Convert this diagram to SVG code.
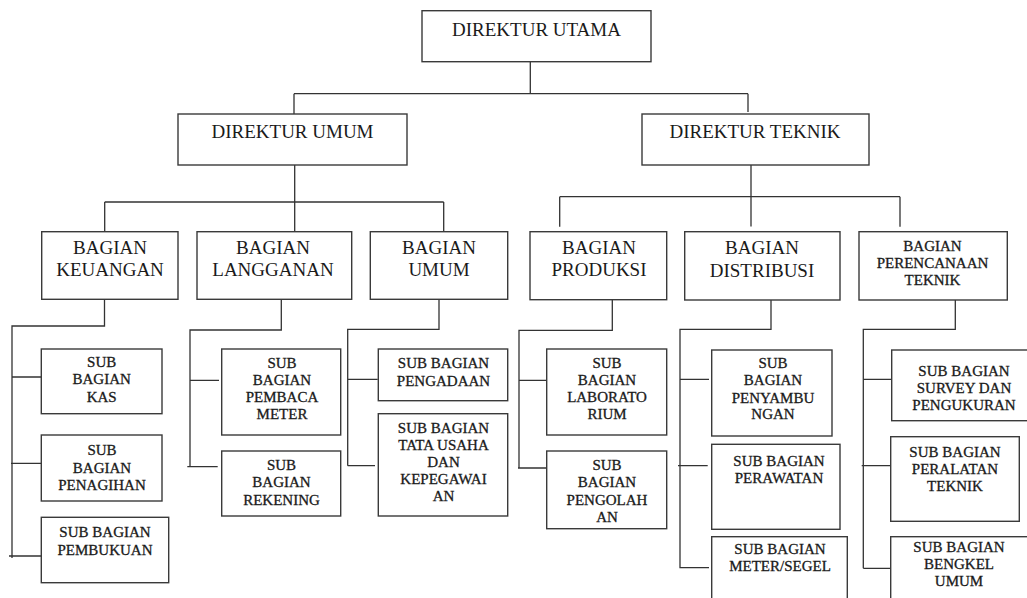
<svg xmlns="http://www.w3.org/2000/svg" width="1027" height="598" viewBox="0 0 1027 598">
<style>
.box{fill:#fff;stroke:#3a3a3a;stroke-width:1.4}
.ln{fill:none;stroke:#333;stroke-width:1.3}
text{font-family:"Liberation Serif","Times New Roman",serif;fill:#1a1a1a;text-anchor:middle}
.t1{font-size:19px}
.t2{font-size:15px;stroke:#1a1a1a;stroke-width:0.3}
</style>
<rect width="1027" height="598" fill="#fff"/>
<g id="connectors" class="ln">
<path d="M530.3,62 V93.7 M294,93.7 H748 M294,93.7 V114 M748,93.7 V112"/>
<path d="M294.7,165 V231.7 M104.7,202 H443.7 M104.7,202 V231.7 M443.7,202 V231"/>
<path d="M751,161 V226.5 M559.7,196.7 H900 M559.7,196.7 V226.7 M900,196.7 V226.7"/>
<path d="M104.5,299.3 V326 H12 V558 M12,377 H41.3 M11,463.3 H41.3 M9,556 H41.3"/>
<path d="M281.3,299.3 V330 H190 V466.7 M190,380.3 H219 M187.3,466.7 H217.7"/>
<path d="M439,299.3 V329.3 H347.7 V465.7 M347.7,379.3 H377.7 M347.7,465.7 H375"/>
<path d="M612.3,299.3 V330.3 H519 V468 M519,380.3 H550 M518,468 H549"/>
<path d="M771,300 V329.3 H680 V568.3 M680,379.3 H709 M678,465.7 H707.7 M680,567.7 H709"/>
<path d="M955.3,300 V329.3 H863.3 V568.3 M863.3,379.3 H892.7 M861.7,465.7 H890 M863.3,568.3 H892.7"/>
</g>
<g id="direktur-utama"><rect class="box" x="422" y="10.7" width="229" height="51"/><text class="t1" x="536.5" y="36">DIREKTUR UTAMA</text></g>
<g id="direktur-umum"><rect class="box" x="178" y="114" width="229" height="51"/><text class="t1" x="292.5" y="138">DIREKTUR UMUM</text></g>
<g id="direktur-teknik"><rect class="box" x="642" y="114" width="227" height="51"/><text class="t1" x="755" y="138">DIREKTUR TEKNIK</text></g>
<g id="bagian-keuangan"><rect class="box" x="41.7" y="231.7" width="136.3" height="67.6"/><text class="t1" x="110" y="254.3">BAGIAN</text><text class="t1" x="110" y="276">KEUANGAN</text></g>
<g id="bagian-langganan"><rect class="box" x="197" y="231.7" width="154.7" height="67.6"/><text class="t1" x="273" y="254.3">BAGIAN</text><text class="t1" x="273" y="276">LANGGANAN</text></g>
<g id="bagian-umum"><rect class="box" x="370.3" y="231.7" width="137.4" height="67.6"/><text class="t1" x="439" y="254.3">BAGIAN</text><text class="t1" x="439" y="276">UMUM</text></g>
<g id="bagian-produksi"><rect class="box" x="530" y="231.7" width="136.7" height="68"/><text class="t1" x="599" y="254.3">BAGIAN</text><text class="t1" x="599" y="276">PRODUKSI</text></g>
<g id="bagian-distribusi"><rect class="box" x="684.7" y="231.7" width="155.3" height="68.3"/><text class="t1" x="762" y="254.3">BAGIAN</text><text class="t1" x="762" y="276.5">DISTRIBUSI</text></g>
<g id="bagian-perencanaan"><rect class="box" x="859" y="231.7" width="148.3" height="68.3"/><text class="t2" x="932.5" y="251">BAGIAN</text><text class="t2" x="932.5" y="268">PERENCANAAN</text><text class="t2" x="932.5" y="285">TEKNIK</text></g>
<g id="sub-kas"><rect class="box" x="41.3" y="349" width="120.7" height="64.7"/><text class="t2" x="101.7" y="366.7">SUB</text><text class="t2" x="101.7" y="384.3">BAGIAN</text><text class="t2" x="101.7" y="401.7">KAS</text></g>
<g id="sub-penagihan"><rect class="box" x="41.3" y="435" width="120.7" height="66"/><text class="t2" x="102" y="455.3">SUB</text><text class="t2" x="102" y="472.7">BAGIAN</text><text class="t2" x="102" y="490">PENAGIHAN</text></g>
<g id="sub-pembukuan"><rect class="box" x="41.3" y="517.3" width="127.4" height="65.4"/><text class="t2" x="105" y="537.3">SUB BAGIAN</text><text class="t2" x="105" y="555">PEMBUKUAN</text></g>
<g id="sub-pembaca-meter"><rect class="box" x="221.7" y="349" width="119" height="86"/><text class="t2" x="282" y="367.7">SUB</text><text class="t2" x="282" y="385">BAGIAN</text><text class="t2" x="282" y="402.3">PEMBACA</text><text class="t2" x="282" y="419.3">METER</text></g>
<g id="sub-rekening"><rect class="box" x="221.7" y="451" width="119" height="65"/><text class="t2" x="281.5" y="470">SUB</text><text class="t2" x="281.5" y="487.3">BAGIAN</text><text class="t2" x="281.5" y="504.7">REKENING</text></g>
<g id="sub-pengadaan"><rect class="box" x="378.3" y="349" width="129.4" height="51.7"/><text class="t2" x="443.5" y="368.3">SUB BAGIAN</text><text class="t2" x="443.5" y="385.7">PENGADAAN</text></g>
<g id="sub-tata-usaha"><rect class="box" x="378.3" y="413.7" width="129.4" height="102.3"/><text class="t2" x="443.5" y="433.3">SUB BAGIAN</text><text class="t2" x="443.5" y="450.3">TATA USAHA</text><text class="t2" x="443.5" y="467.3">DAN</text><text class="t2" x="443.5" y="484.3">KEPEGAWAI</text><text class="t2" x="443.5" y="501.3">AN</text></g>
<g id="sub-laboratorium"><rect class="box" x="546.7" y="349" width="120" height="86"/><text class="t2" x="607" y="368">SUB</text><text class="t2" x="607" y="385">BAGIAN</text><text class="t2" x="607" y="402.3">LABORATO</text><text class="t2" x="607" y="419.3">RIUM</text></g>
<g id="sub-pengolahan"><rect class="box" x="546.7" y="451" width="120" height="77.7"/><text class="t2" x="607" y="470">SUB</text><text class="t2" x="607" y="487.3">BAGIAN</text><text class="t2" x="607" y="504.7">PENGOLAH</text><text class="t2" x="607" y="521.7">AN</text></g>
<g id="sub-penyambungan"><rect class="box" x="711.7" y="350" width="120.3" height="86"/><text class="t2" x="773" y="368.3">SUB</text><text class="t2" x="773" y="385.3">BAGIAN</text><text class="t2" x="773" y="402.7">PENYAMBU</text><text class="t2" x="773" y="419.3">NGAN</text></g>
<g id="sub-perawatan"><rect class="box" x="711.7" y="444.3" width="128.3" height="85"/><text class="t2" x="779" y="465.7">SUB BAGIAN</text><text class="t2" x="779" y="482.7">PERAWATAN</text></g>
<g id="sub-meter-segel"><rect class="box" x="711.7" y="536.7" width="135.6" height="70"/><text class="t2" x="780" y="554">SUB BAGIAN</text><text class="t2" x="780" y="571">METER/SEGEL</text></g>
<g id="sub-survey"><rect class="box" x="891.7" y="350" width="140" height="70.7"/><text class="t2" x="964" y="376">SUB BAGIAN</text><text class="t2" x="964" y="393.3">SURVEY DAN</text><text class="t2" x="964" y="410.3">PENGUKURAN</text></g>
<g id="sub-peralatan"><rect class="box" x="890.7" y="436.7" width="128.6" height="84.6"/><text class="t2" x="955" y="456.7">SUB BAGIAN</text><text class="t2" x="955" y="474">PERALATAN</text><text class="t2" x="955" y="490.7">TEKNIK</text></g>
<g id="sub-bengkel"><rect class="box" x="890.7" y="536.7" width="140" height="70"/><text class="t2" x="959" y="551.7">SUB BAGIAN</text><text class="t2" x="959" y="569.3">BENGKEL</text><text class="t2" x="959" y="586">UMUM</text></g>
</svg>
